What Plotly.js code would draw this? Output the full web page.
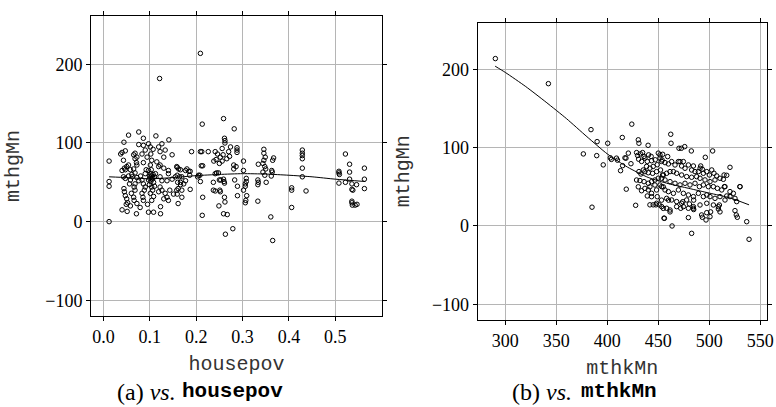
<!DOCTYPE html>
<html>
<head>
<meta charset="utf-8">
<script src="https://cdn.plot.ly/plotly-3.0.1.min.js"></script>
<style>html,body{margin:0;padding:0;background:#fff;}#chart{width:776px;height:407px;}</style>
</head>
<body>
<div id="chart"></div>
<script>
// Panel (a): mthgMn vs housepov
const housepov = [0.012,0.012,0.012,0.012,0.037,0.040,0.043,0.044,0.047,0.045,0.040,0.047,0.050,0.054,0.058,0.043,0.047,0.054,0.058,0.044,0.045,0.047,0.050,0.052,0.049,0.040,0.051,0.054,0.061,0.056,0.060,0.058,0.065,0.068,0.068,0.072,0.071,0.076,0.072,0.065,0.068,0.062,0.072,0.076,0.068,0.066,0.068,0.065,0.066,0.072,0.071,0.079,0.086,0.085,0.088,0.090,0.086,0.083,0.090,0.086,0.094,0.083,0.090,0.076,0.086,0.086,0.097,0.080,0.092,0.095,0.083,0.101,0.102,0.104,0.101,0.097,0.101,0.103,0.106,0.097,0.099,0.104,0.106,0.101,0.108,0.104,0.097,0.108,0.112,0.110,0.108,0.105,0.100,0.107,0.102,0.099,0.110,0.103,0.107,0.113,0.119,0.122,0.126,0.133,0.130,0.122,0.115,0.119,0.130,0.140,0.122,0.126,0.137,0.148,0.155,0.158,0.141,0.148,0.140,0.122,0.126,0.133,0.137,0.140,0.119,0.130,0.123,0.123,0.121,0.143,0.151,0.158,0.161,0.160,0.166,0.159,0.162,0.166,0.159,0.164,0.169,0.177,0.180,0.184,0.187,0.186,0.166,0.173,0.169,0.161,0.159,0.169,0.187,0.190,0.177,0.209,0.213,0.259,0.282,0.261,0.262,0.262,0.288,0.288,0.288,0.209,0.212,0.241,0.256,0.258,0.270,0.266,0.272,0.252,0.250,0.238,0.243,0.256,0.281,0.302,0.302,0.281,0.286,0.211,0.214,0.205,0.208,0.203,0.244,0.248,0.241,0.250,0.259,0.260,0.253,0.237,0.261,0.209,0.283,0.289,0.237,0.241,0.251,0.252,0.302,0.306,0.306,0.308,0.308,0.333,0.333,0.334,0.309,0.307,0.306,0.333,0.289,0.261,0.262,0.249,0.214,0.213,0.259,0.267,0.279,0.263,0.246,0.274,0.226,0.346,0.346,0.349,0.346,0.367,0.365,0.344,0.348,0.350,0.344,0.363,0.364,0.348,0.362,0.351,0.365,0.361,0.334,0.429,0.429,0.429,0.429,0.429,0.429,0.406,0.406,0.437,0.406,0.522,0.531,0.563,0.508,0.508,0.509,0.531,0.531,0.563,0.508,0.522,0.536,0.546,0.536,0.538,0.563,0.536,0.536,0.537,0.543,0.547];
const mthgMnA = [77,51,45,0,86,88,78,101,90,68,65,66,70,72,66,57,55,58,53,42,38,33,29,24,22,15,13,110,60,48,36,20,85,87,80,82,75,114,72,67,62,57,56,52,48,44,40,31,27,23,10,18,27,31,40,44,48,53,61,75,82,86,91,98,97,106,99,58,66,22,36,95,86,78,72,65,61,58,56,53,47,44,40,36,32,27,12,12,61,57,50,54,55,60,51,58,45,66,92,109,95,89,99,91,82,72,76,70,68,65,57,52,52,54,57,70,104,85,61,44,40,36,31,27,38,29,19,10,182,40,35,40,23,50,47,69,67,66,59,57,57,65,67,64,64,59,50,48,40,42,35,31,41,89,52,214,124,131,118,106,103,100,94,91,88,89,89,89,93,85,89,80,83,82,74,77,79,77,72,77,65,67,70,71,71,59,59,57,62,62,61,53,54,51,53,50,49,51,53,45,40,39,40,38,40,45,48,51,55,53,47,50,33,27,24,26,33,31,25,20,31,8,10,9,-9,-16,86,95,89,92,87,82,78,81,78,74,70,67,63,65,63,59,58,50,-24,6,73,91,87,84,80,68,57,43,40,39,18,86,73,68,64,62,60,63,54,54,49,50,48,47,41,40,42,26,24,21,21,22];
const smoothHouseX = [0.012,0.05,0.10,0.15,0.20,0.25,0.30,0.35,0.40,0.45,0.50,0.565];
const smoothHouseY = [57,56,54.5,56,58.5,60,61,60.5,59,57,54,51];

// Panel (b): mthgMn vs mthkMn
const mthkMn = [290.2,342.2,384,390,400.4,376.5,389.6,396,424,414.7,385,403,404,409,410,413,415,417.3,420.6,418.3,423.2,418.6,427.8,430.4,431,440,
428.7,429.7,432.6,434.6,436,430.7,433.6,436.9,440.5,443,439.2,443.4,447,450,451.6,453.2,449,445,441.8,438.5,435.3,431,433,436.9,440.2,444.4,448.3,452.2,454.2,450,446.7,443.4,440.2,436,432,428.7,430.4,436.9,441.8,446.7,451.6,454.9,448.3,443.4,439.2,443.4,449,453.2,450.9,447.7,445,441.8,454.9,455.6,448.3,440.2,433.6,
451.7,454.3,459.2,453.7,456.6,459.9,463.1,466.4,469.7,471.3,474.6,472.9,476.2,479.5,482.7,484.4,486,489.3,491,494.2,497.5,500.1,502.4,504.6,507.3,510.5,514.5,517.1,513.8,505.6,500.7,495.8,490.9,487.6,482.7,477.8,472.9,468,464.8,461.5,458.2,455,453.3,456.6,461.5,466.4,471.3,476.2,481.1,486,490.3,494.2,499.1,504,507.9,512.2,515.4,520.3,523.6,530.1,453.3,456.6,459.9,464.8,469.7,474.6,479.5,484.4,489.3,494.2,497.5,500.7,505.6,510.5,517.1,520.3,525.2,458.2,463.1,468,472.9,477.8,484.4,490.9,497.5,504,508.9,508.9,509.9,472,474.6,479.5,484.4,480.5,468,461.5,458.2,453.3,456,479.5,463.5,482.7,496.8,492.5,493.2,497.5,500.7,526.5,527.5,525.2,536.7,539,462.2,462.5,470.3,472.6,475.9,482.4,503.3,496.1,491.6,493.2,520.3,514.8,530.1,515.4,526.9,
460,474,484.7,484.7,461.5,510.5,501.3];
const mthgMnB = [213.7,181.7,123,107.7,105.6,92,89.8,78,130,113,24,87,85,86.6,84,70.6,77,87,93,86.6,79.5,47,26.4,110,105.6,103,
93.7,90,92,93.7,88.8,85.3,82.4,86.6,90.8,88.8,82.4,83.3,84.5,93,86.6,82.4,78.2,76,73.8,76,71.5,69.4,66.4,69.4,68,67.2,69.4,71.5,65,61,58.7,56.6,54.5,56.6,58,58.7,50,48,50,52.3,52.3,50,46,41.7,38.3,37.4,37.4,33,27,27,27,27,22.5,10,29,46,45,
90.7,91.5,88.6,84.3,80.9,79.2,82.2,77.9,82.2,82.2,82.2,76.6,73.7,77.9,71.5,76.6,69.4,69.4,73.7,67.3,69.4,65.1,71.5,67.3,63.9,60.9,65.1,64.7,59.6,58.8,56.6,58.8,60.9,63,62.2,63,65.1,67.3,69.4,69.4,67.3,65.1,60.9,58.8,56.6,54.5,52.4,54.5,52.4,54.5,50.2,52.4,50.2,50.2,48.1,46,50.2,43.9,41.7,50.2,50.2,46,43.9,41.7,46,41.7,39.6,37.5,41.7,37.5,39.6,37.5,35.3,37.5,38.3,37.5,35.3,35.3,33.2,31.1,29,33.2,24.7,26.8,29,26.8,24.7,21.7,26.8,22.6,24.7,22.6,22.6,28.1,24.7,20.4,22.6,24.7,9.8,10.7,0,-9.4,7.7,14.1,11.1,17,11.9,14.1,11.1,19.6,5.5,-17,117.1,105.6,99.2,99.2,101.3,95.8,95.8,87.7,76.6,72.4,74.9,50.2,50.2,33.2,31.1,
33,31,21,33,18,18,18];
const smoothMthkX = [290,300,320,340,360,380,400,420,440,460,480,500,520,539];
const smoothMthkY = [204,196,178,158,137,114,92,75,62,54,48,42,36,27];

const xTicksA = [0,0.1,0.2,0.3,0.4,0.5];
const xTickTextA = ['0.0','0.1','0.2','0.3','0.4','0.5'];
const xTicksB = [300,350,400,450,500,550];
const yTicks = [-100,0,100,200];

const SERIF = 'Liberation Serif';
const MONO = 'Courier New';

const ptMarker = {symbol:'circle-open', size:4.5, color:'#000', line:{width:1, color:'#000'}};

const traces = [
  {type:'scatter', mode:'markers', x:housepov, y:mthgMnA, marker:ptMarker, xaxis:'x', yaxis:'y'},
  {type:'scatter', mode:'lines', x:smoothHouseX, y:smoothHouseY, line:{color:'#000', width:1, shape:'spline', smoothing:0.6}, xaxis:'x', yaxis:'y'},
  {type:'scatter', mode:'markers', x:mthkMn, y:mthgMnB, marker:ptMarker, xaxis:'x2', yaxis:'y2'},
  {type:'scatter', mode:'lines', x:smoothMthkX, y:smoothMthkY, line:{color:'#000', width:1, shape:'spline', smoothing:0.6}, xaxis:'x2', yaxis:'y2'}
];

function tickFont(){ return {family:SERIF, size:18, color:'#000'}; }
function titleFont(){ return {family:MONO, size:20, color:'#333'}; }

function axisBase(extra){
  return Object.assign({
    showline:true, linecolor:'#000', linewidth:1, mirror:'ticks',
    ticks:'outside', ticklen:4, tickcolor:'#000', tickwidth:1,
    showgrid:true, gridcolor:'#b5b5b5', gridwidth:1,
    zeroline:false, tickfont:tickFont(), automargin:false, fixedrange:true
  }, extra);
}

const layout = {
  width:776, height:407,
  margin:{l:0, r:0, t:0, b:0},
  paper_bgcolor:'#fff', plot_bgcolor:'#fff',
  font:{family:SERIF, size:17, color:'#000'},
  showlegend:false,
  xaxis: axisBase({domain:[0.1173,0.4923], range:[-0.027,0.601], tickmode:'array', tickvals:xTicksA, ticktext:xTickTextA, anchor:'y',
    title:{text:'housepov', font:titleFont(), standoff:10}}),
  yaxis: axisBase({domain:[0.2236,0.9607], range:[-120,261.5], tickmode:'array', tickvals:yTicks, anchor:'x',
    title:{text:'mthgMn', font:titleFont(), standoff:20}}),
  xaxis2: axisBase({domain:[0.6156,0.9884], range:[272.9,556.6], tickmode:'array', tickvals:xTicksB, anchor:'y2',
    title:{text:'mthkMn', font:titleFont(), standoff:10}}),
  yaxis2: axisBase({domain:[0.2138,0.9442], range:[-120,259.5], tickmode:'array', tickvals:yTicks, anchor:'x2',
    title:{text:'mthgMn', font:titleFont(), standoff:16}}),
  annotations:[
    {xref:'paper', yref:'paper', x:0.2513, y:0.0295, xanchor:'center', yanchor:'middle', showarrow:false,
     text:'(a) <i>vs.</i>', font:{family:SERIF, size:24, color:'#000'}, xshift:-49, yshift:3},
    {xref:'paper', yref:'paper', x:0.2513, y:0.0295, xanchor:'center', yanchor:'middle', showarrow:false,
     text:'<b>housepov</b>', font:{family:MONO, size:21, color:'#000'}, xshift:37, yshift:3},
    {xref:'paper', yref:'paper', x:0.75, y:0.0246, xanchor:'center', yanchor:'middle', showarrow:false,
     text:'(b) <i>vs.</i>', font:{family:SERIF, size:24, color:'#000'}, xshift:-40, yshift:5},
    {xref:'paper', yref:'paper', x:0.75, y:0.0246, xanchor:'center', yanchor:'middle', showarrow:false,
     text:'<b>mthkMn</b>', font:{family:MONO, size:21, color:'#000'}, xshift:37, yshift:5}
  ]
};

Plotly.newPlot('chart', traces, layout, {staticPlot:true, displayModeBar:false});
</script>
</body>
</html>
